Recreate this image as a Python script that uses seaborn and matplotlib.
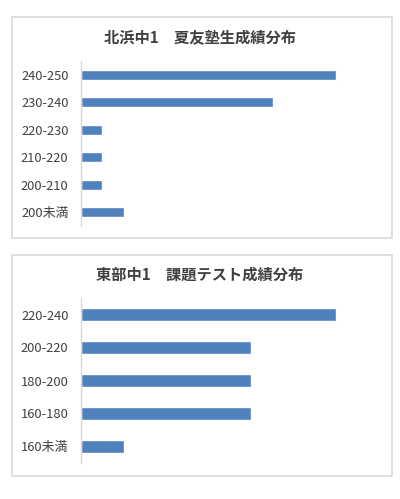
import matplotlib
matplotlib.use("Agg")
import matplotlib.pyplot as plt
from matplotlib.patches import Rectangle
import seaborn as sns
import pandas as pd

# Data
top_title = "北浜中1　夏友塾生成績分布"
top_categories = ["240-250", "230-240", "220-230", "210-220", "200-210", "200未満"]
top_values = [12, 9, 1, 1, 1, 2]

bottom_title = "東部中1　課題テスト成績分布"
bottom_categories = ["220-240", "200-220", "180-200", "160-180", "160未満"]
bottom_values = [6, 4, 4, 4, 1]

sns.set_style("white")
plt.rcParams['font.family'] = ['Noto Sans CJK JP', 'DejaVu Sans']

W, H = 400, 499
fig = plt.figure(figsize=(W / 100, H / 100), dpi=100)
fig.patch.set_facecolor("white")

BAR = "#4f81bd"
TXT = "#404040"
GRID = "#d9d9d9"


def fx(px):
    return px / W


def fy(py):
    return 1 - py / H


def panel(cats, vals, title, box, ax_px, xmax, title_y):
    x0, y0, x1, y1 = box
    fig.patches.append(Rectangle((fx(x0), fy(y1)), fx(x1) - fx(x0), fy(y0) - fy(y1),
                                 transform=fig.transFigure, fill=False,
                                 edgecolor=GRID, linewidth=1.2, zorder=0))
    ax0, ay0, ax1, ay1 = ax_px
    ax = fig.add_axes([fx(ax0), fy(ay1), fx(ax1) - fx(ax0), fy(ay0) - fy(ay1)])
    df = pd.DataFrame({"cat": cats, "val": vals})
    sns.barplot(data=df, x="val", y="cat", orient="h", color=BAR, width=0.37,
                saturation=1, ax=ax, order=cats)
    ax.set_xlim(0, xmax)
    ax.set_ylim(len(cats) - 0.5, -0.5)
    ax.set_xlabel("")
    ax.set_ylabel("")
    ax.set_xticks([])
    for s in ["top", "right", "bottom"]:
        ax.spines[s].set_visible(False)
    ax.spines["left"].set_color(GRID)
    ax.spines["left"].set_linewidth(1)
    ax.tick_params(axis="y", length=0, pad=9, labelsize=9.3, labelcolor=TXT)
    ax.patch.set_alpha(0)
    fig.text(0.5, fy(title_y), title, ha="center", va="center",
             fontsize=11, fontweight="bold", color=TXT)
    return ax


panel(top_categories, top_values, top_title, (12, 17, 392, 238), (81, 61, 379, 226), 14, 37)
panel(bottom_categories, bottom_values, bottom_title, (12, 255, 392, 476), (81, 298, 379, 463), 7, 275)

fig.savefig("out.png", dpi=100)
